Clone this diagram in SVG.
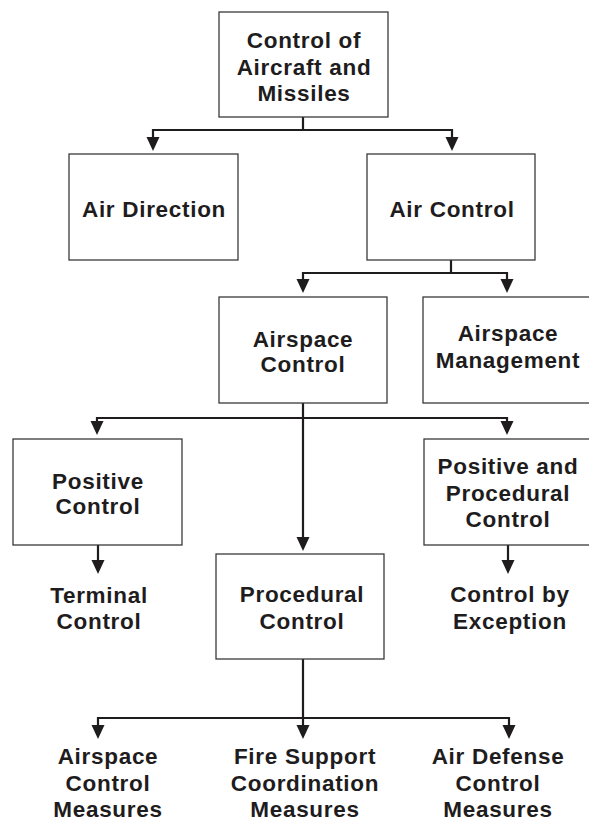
<svg xmlns="http://www.w3.org/2000/svg" xmlns:xlink="http://www.w3.org/1999/xlink" width="589" height="821" viewBox="0 0 589 821">
<style>
.box{fill:#fff;stroke:#3a3a3a;stroke-width:1.3}
.t{font-family:"Liberation Sans",Arial,Helvetica,sans-serif;font-weight:bold;font-size:22.5px;letter-spacing:0.7px;fill:#1e1c1d;text-anchor:middle}
.ln{fill:none;stroke:#1e1c1d;stroke-width:2.2}
.ah{fill:#1e1c1d}
</style>
<defs>
<path id="ah" class="ah" d="M-6.5,-14 L6.5,-14 L0,0 Z"/>
</defs>
<rect width="589" height="821" fill="#fff"/>
<g id="connectors">
<path class="ln" d="M303,117 V130 M153,130 H452 M153,129 V140 M452,129 V140"/>
<use xlink:href="#ah" x="153" y="151"/>
<use xlink:href="#ah" x="452" y="151"/>
<path class="ln" d="M451,260 V273 M303,273 H507 M303,272 V283 M507,272 V283"/>
<use xlink:href="#ah" x="303" y="293"/>
<use xlink:href="#ah" x="507" y="293"/>
<path class="ln" d="M303,403 V540 M97,418 H507 M97,417 V425 M507,417 V425"/>
<use xlink:href="#ah" x="97" y="435"/>
<use xlink:href="#ah" x="507" y="435"/>
<use xlink:href="#ah" x="303" y="551"/>
<path class="ln" d="M98,545 V562 M508,545 V562"/>
<use xlink:href="#ah" x="98" y="574"/>
<use xlink:href="#ah" x="508" y="574"/>
<path class="ln" d="M303,659 V728 M98,718 H509 M98,717 V728 M509,717 V728"/>
<use xlink:href="#ah" x="98" y="739"/>
<use xlink:href="#ah" x="303" y="739"/>
<use xlink:href="#ah" x="509" y="739"/>
</g>
<g id="n-root">
<rect class="box" x="219" y="12" width="169" height="105"/>
<text class="t" x="304" y="48">Control of</text>
<text class="t" x="304" y="74.5">Aircraft and</text>
<text class="t" x="304" y="101">Missiles</text>
</g>
<g id="n-air-direction">
<rect class="box" x="69" y="154" width="169" height="106"/>
<text class="t" x="154" y="217">Air Direction</text>
</g>
<g id="n-air-control">
<rect class="box" x="367" y="154" width="168" height="106"/>
<text class="t" x="452" y="217">Air Control</text>
</g>
<g id="n-airspace-control">
<rect class="box" x="219" y="297" width="168" height="106"/>
<text class="t" x="303" y="347">Airspace</text>
<text class="t" x="303" y="372">Control</text>
</g>
<g id="n-airspace-management">
<rect class="box" x="423" y="297" width="168" height="106"/>
<text class="t" x="508" y="341">Airspace</text>
<text class="t" x="508" y="368">Management</text>
</g>
<g id="n-positive-control">
<rect class="box" x="13" y="439" width="169" height="106"/>
<text class="t" x="98" y="489">Positive</text>
<text class="t" x="98" y="514">Control</text>
</g>
<g id="n-positive-procedural">
<rect class="box" x="424" y="439" width="167" height="106"/>
<text class="t" x="508" y="474">Positive and</text>
<text class="t" x="508" y="501">Procedural</text>
<text class="t" x="508" y="527">Control</text>
</g>
<g id="n-procedural-control">
<rect class="box" x="216" y="554" width="168" height="105"/>
<text class="t" x="302" y="602">Procedural</text>
<text class="t" x="302" y="629">Control</text>
</g>
<g id="n-terminal-control">
<text class="t" x="99" y="603">Terminal</text>
<text class="t" x="99" y="629">Control</text>
</g>
<g id="n-control-by-exception">
<text class="t" x="510" y="602">Control by</text>
<text class="t" x="510" y="629">Exception</text>
</g>
<g id="n-acm">
<text class="t" x="108" y="764">Airspace</text>
<text class="t" x="108" y="790.5">Control</text>
<text class="t" x="108" y="817">Measures</text>
</g>
<g id="n-fscm">
<text class="t" x="305" y="764">Fire Support</text>
<text class="t" x="305" y="790.5">Coordination</text>
<text class="t" x="305" y="817">Measures</text>
</g>
<g id="n-adcm">
<text class="t" x="498" y="764">Air Defense</text>
<text class="t" x="498" y="790.5">Control</text>
<text class="t" x="498" y="817">Measures</text>
</g>
</svg>
